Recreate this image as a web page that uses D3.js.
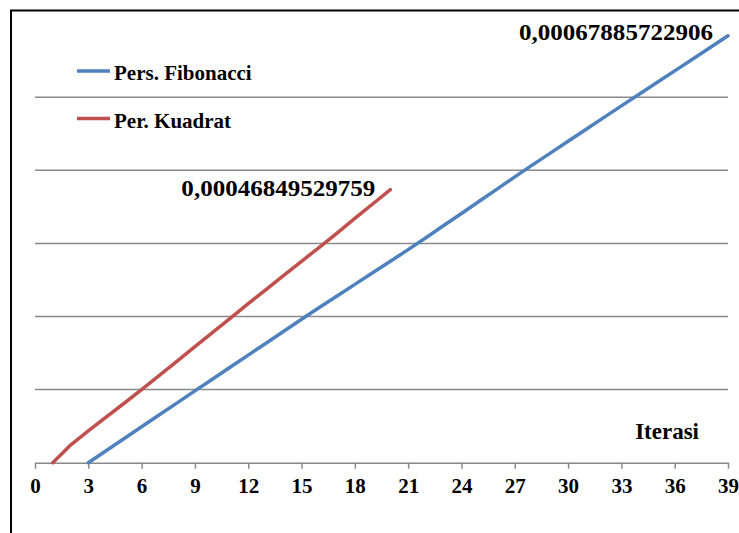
<!DOCTYPE html>
<html>
<head>
<meta charset="utf-8">
<script src="https://cdn.jsdelivr.net/npm/d3@7"></script>
<style>
  html, body { margin: 0; padding: 0; background: #fff; }
  svg { display: block; }
  text { font-family: "Liberation Serif", "DejaVu Serif", serif; font-weight: bold; fill: #000; }
</style>
</head>
<body>
<svg id="chart" width="739" height="533"></svg>
<script>
// Iteration numbers and convergence values per method
const iterFib = d3.range(3, 40);
const valFib = [
  0.0000948, 0.0001112, 0.0001275, 0.0001439, 0.0001603, 0.0001766, 0.0001930,
  0.0002094, 0.0002257, 0.0002420, 0.0002583, 0.0002747, 0.0002910, 0.0003070,
  0.0003228, 0.0003387, 0.0003546, 0.0003704, 0.0003863, 0.0004025, 0.0004192,
  0.0004357, 0.0004524, 0.0004691, 0.0004858, 0.0005022, 0.0005183, 0.0005345,
  0.0005506, 0.0005668, 0.0005829, 0.0005989, 0.0006148, 0.0006308, 0.0006467,
  0.0006627, 0.00067885722906
];
const iterKuad = d3.range(1, 21);
const valKuad = [
  0.0000948, 0.0001190, 0.0001382, 0.0001573, 0.0001758, 0.0001947, 0.0002142,
  0.0002339, 0.0002535, 0.0002732, 0.0002927, 0.0003124, 0.0003317, 0.0003510,
  0.0003703, 0.0003895, 0.0004090, 0.0004289, 0.0004487, 0.00046849529759
];
const seriesNames = ["Pers. Fibonacci", "Per. Kuadrat"];
const seriesColors = ["#4F81BD", "#C0504D"];
const endLabels = ["0,00067885722906", "0,00046849529759"];
const xTicks = d3.range(0, 40, 3);
const xTitle = "Iterasi";
const yMin = 0.0000948, yStep = 0.0001, yCount = 6;

const FONT = "'Liberation Serif', 'DejaVu Serif', serif";
const svg = d3.select("#chart");

// Outer frame (left and top edges)
svg.append("path")
  .attr("d", "M11,533 L11,10.5 L739,10.5")
  .attr("fill", "none").attr("stroke", "#000").attr("stroke-width", 2);

const x = d3.scaleLinear().domain([0, 39]).range([35, 728]);
const y = d3.scaleLinear().domain([yMin, yMin + yCount * yStep]).range([462.7, 462.7 - yCount * 73.1]);

// Horizontal gridlines
const gridVals = d3.range(1, yCount).map(k => yMin + k * yStep);
svg.append("g").selectAll("line").data(gridVals).join("line")
  .attr("x1", x(0)).attr("x2", x(39))
  .attr("y1", d => y(d)).attr("y2", d => y(d))
  .attr("stroke", "#8a8a8a").attr("stroke-width", 1.5);

// Category axis along the bottom
const xAxis = svg.append("g")
  .attr("transform", `translate(0,${y(yMin)})`)
  .call(d3.axisBottom(x).tickValues(xTicks).tickSize(6).tickPadding(9).tickSizeOuter(0));
xAxis.select(".domain").attr("stroke", "#8a8a8a").attr("stroke-width", 1.5);
xAxis.selectAll(".tick line").attr("stroke", "#8a8a8a").attr("stroke-width", 1.5);
xAxis.selectAll(".tick text")
  .attr("font-family", FONT)
  .attr("font-weight", "bold").attr("font-size", 21).attr("fill", "#000")
  .attr("dy", "0.71em");

svg.append("text")
  .attr("x", 699).attr("y", 438.5)
  .attr("text-anchor", "end").attr("font-size", 23)
  .text(xTitle);

// Series lines
const line = d3.line().x(d => x(d[0])).y(d => y(d[1]));
const series = [
  d3.zip(iterFib, valFib),
  d3.zip(iterKuad, valKuad)
];
series.forEach((pts, i) => {
  svg.append("path")
    .datum(pts)
    .attr("d", line)
    .attr("fill", "none")
    .attr("stroke", seriesColors[i])
    .attr("stroke-width", 3.5)
    .attr("stroke-linejoin", "round")
    .attr("stroke-linecap", "round");
  const last = pts[pts.length - 1];
  svg.append("text")
    .attr("x", x(last[0]) - 15)
    .attr("y", y(last[1]) + (i === 0 ? 4.5 : 6))
    .attr("text-anchor", "end")
    .attr("font-size", 23)
    .attr("textLength", 194)
    .attr("lengthAdjust", "spacingAndGlyphs")
    .text(endLabels[i]);
});

// Legend
const legend = svg.append("g");
seriesNames.forEach((name, i) => {
  const ly = 71 + i * 47.5;
  legend.append("line")
    .attr("x1", 77).attr("x2", 110).attr("y1", ly).attr("y2", ly)
    .attr("stroke", seriesColors[i]).attr("stroke-width", 3.5);
  legend.append("text")
    .attr("x", 114).attr("y", ly + 9)
    .attr("font-size", 21)
    .text(name);
});
</script>
</body>
</html>
